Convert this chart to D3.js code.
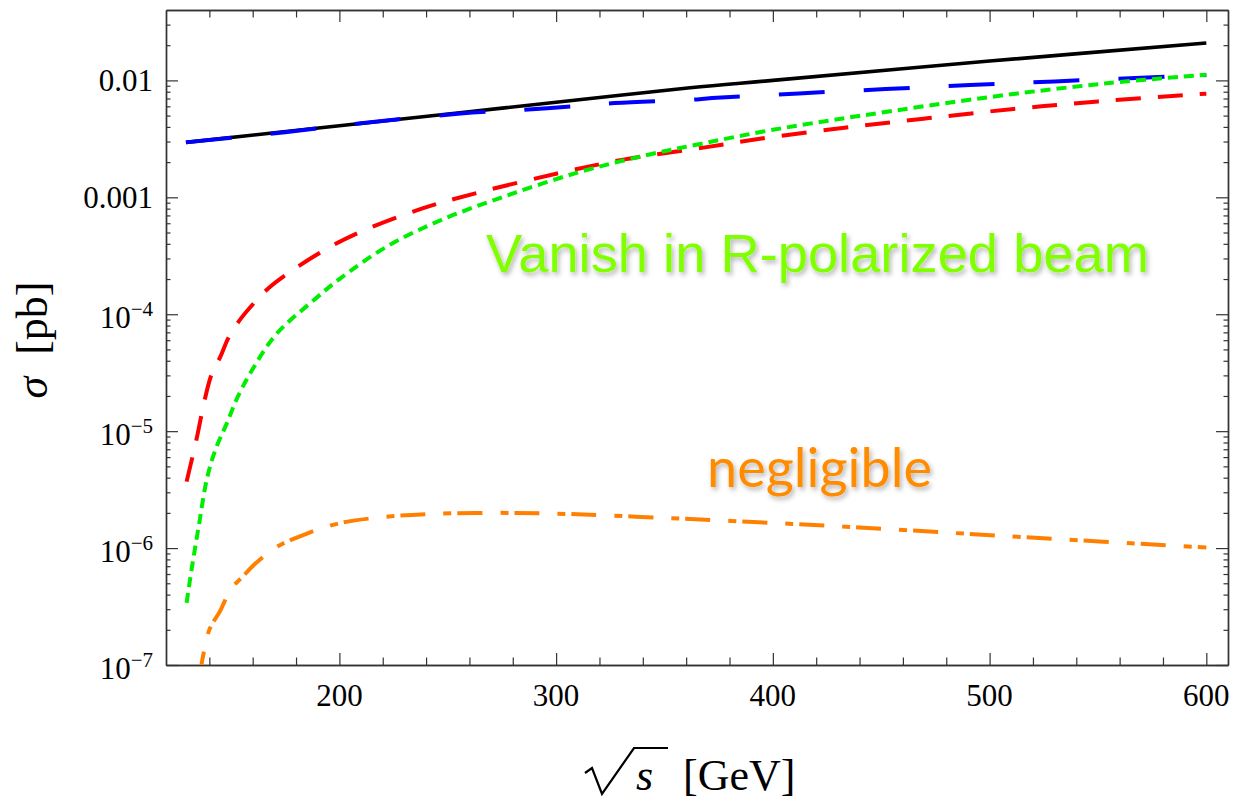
<!DOCTYPE html>
<html><head><meta charset="utf-8">
<script src="https://cdn.jsdelivr.net/npm/d3@7"></script>
<style>body{margin:0;background:#fff;} svg{display:block;}</style>
</head><body>
<svg id="chart" width="1234" height="801"></svg>
<script>
// ---- data ----
const xMajorTicks = [200, 300, 400, 500, 600];
const xMinorTicks = [140, 160, 180, 220, 240, 260, 280, 320, 340, 360, 380, 420, 440, 460, 480, 520, 540, 560, 580];
const yDecadeExps = [-7, -6, -5, -4, -3, -2];
const yPlainLabels = {"-3": "0.001", "-2": "0.01"};

const blackX = [129.2, 200, 256.6, 300, 361.8, 400, 500, 600];
const blackY = [0.00295, 0.0041, 0.00532, 0.0065, 0.00866, 0.0100, 0.01463, 0.0209];

const blueX = [129.2, 175, 210, 256, 296, 327, 365, 374, 412, 452, 491, 530, 570, 600];
const blueY = [0.00295, 0.0036, 0.0043, 0.0052, 0.00578, 0.0064, 0.00688, 0.0071, 0.00774, 0.00843, 0.00912, 0.0098, 0.01055, 0.0111];

const redX = [129.5, 134, 138, 141, 145, 149, 154, 161, 167, 175, 191.5, 209, 238, 265, 300, 331, 368, 394, 433, 472, 511, 550, 600];
const redY = [3.7e-6, 8.4e-6, 1.9e-5, 3.05e-5, 4.3e-5, 6.4e-5, 8.9e-5, 1.27e-4, 1.65e-4, 2.15e-4, 3.4e-4, 5.0e-4, 8.0e-4, 1.11e-3, 1.59e-3, 2.1e-3, 2.66e-3, 3.17e-3, 3.94e-3, 4.76e-3, 5.69e-3, 6.61e-3, 7.7e-3];

const greenX = [129.5, 132, 135, 139, 143, 148, 153, 160, 171, 188, 200, 222, 247, 277, 311, 342, 368, 400, 441, 500, 553, 600];
const greenY = [3.4e-7, 6.9e-7, 1.5e-6, 4.0e-6, 7.1e-6, 1.16e-5, 1.95e-5, 3.4e-5, 6.8e-5, 1.31e-4, 2.0e-4, 3.8e-4, 6.4e-4, 1.03e-3, 1.65e-3, 2.3e-3, 2.9e-3, 3.78e-3, 5.0e-3, 7.2e-3, 9.4e-3, 0.0112];

const orangeX = [135.5, 140, 145, 150, 155, 161, 171, 185, 200, 220, 243, 271, 300, 353, 409, 462, 516, 600];
const orangeY = [8e-8, 2.0e-7, 2.9e-7, 4.5e-7, 5.6e-7, 7.3e-7, 1.02e-6, 1.33e-6, 1.63e-6, 1.84e-6, 1.96e-6, 2.0e-6, 1.97e-6, 1.80e-6, 1.61e-6, 1.42e-6, 1.24e-6, 1.01e-6];

// ---- layout ----
const L = 166, R = 1228, T = 10, B = 665;
const svg = d3.select("#chart");
const x = d3.scaleLinear().domain([120, 610]).range([L, R]);
const y = d3.scaleLog().domain([1e-7, 0.04]).range([B, T]);

const defs = svg.append("defs");
defs.append("clipPath").attr("id", "plotclip").append("rect")
  .attr("x", L).attr("y", T).attr("width", R - L).attr("height", B - T);
const f = defs.append("filter").attr("id", "shadow")
  .attr("x", "-10%").attr("y", "-30%").attr("width", "125%").attr("height", "170%");
f.append("feDropShadow").attr("dx", 2).attr("dy", 3).attr("stdDeviation", 2.5)
  .attr("flood-color", "#000").attr("flood-opacity", 0.3);

// minor y ticks
const yMinor = [];
yDecadeExps.forEach(e => { for (let k = 2; k <= 9; k++) { const v = k * Math.pow(10, e); if (v < 0.04) yMinor.push(v); } });
const yMajor = yDecadeExps.map(e => Math.pow(10, e));

const axisColor = "#333";
function styleAxis(g) {
  g.selectAll("path.domain").attr("stroke", axisColor).attr("stroke-width", 1.4);
  g.selectAll(".tick line").attr("stroke", axisColor).attr("stroke-width", 1.2);
  g.selectAll(".tick text").remove();
}
// bottom
svg.append("g").attr("transform", `translate(0,${B})`)
  .call(d3.axisBottom(x).tickValues(xMinorTicks).tickSize(-7.5).tickSizeOuter(0).tickFormat("")).call(styleAxis);
svg.append("g").attr("transform", `translate(0,${B})`)
  .call(d3.axisBottom(x).tickValues(xMajorTicks).tickSize(-12).tickSizeOuter(0).tickFormat("")).call(styleAxis);
// top
svg.append("g").attr("transform", `translate(0,${T})`)
  .call(d3.axisTop(x).tickValues(xMinorTicks).tickSize(-7.5).tickSizeOuter(0).tickFormat("")).call(styleAxis);
svg.append("g").attr("transform", `translate(0,${T})`)
  .call(d3.axisTop(x).tickValues(xMajorTicks).tickSize(-12).tickSizeOuter(0).tickFormat("")).call(styleAxis);
// left
svg.append("g").attr("transform", `translate(${L},0)`)
  .call(d3.axisLeft(y).tickValues(yMinor).tickSize(-4.5).tickSizeOuter(0).tickFormat("")).call(styleAxis);
svg.append("g").attr("transform", `translate(${L},0)`)
  .call(d3.axisLeft(y).tickValues(yMajor).tickSize(-12).tickSizeOuter(0).tickFormat("")).call(styleAxis);
// right
svg.append("g").attr("transform", `translate(${R},0)`)
  .call(d3.axisRight(y).tickValues(yMinor).tickSize(-4.5).tickSizeOuter(0).tickFormat("")).call(styleAxis);
svg.append("g").attr("transform", `translate(${R},0)`)
  .call(d3.axisRight(y).tickValues(yMajor).tickSize(-12).tickSizeOuter(0).tickFormat("")).call(styleAxis);

// tick labels
const serif = "'Liberation Serif', 'Times New Roman', serif";
svg.append("g").selectAll("text").data(xMajorTicks).join("text")
  .attr("x", d => x(d)).attr("y", 706).attr("text-anchor", "middle")
  .attr("font-family", serif).attr("font-size", 31).attr("fill", "#000")
  .text(d => d);

const yl = svg.append("g");
yDecadeExps.forEach(e => {
  const v = Math.pow(10, e);
  if (yPlainLabels[e] !== undefined) {
    yl.append("text").attr("x", 153).attr("y", y(v) + 10.5).attr("text-anchor", "end")
      .attr("font-family", serif).attr("font-size", 31).text(yPlainLabels[e]);
  } else {
    const t = yl.append("text").attr("x", 153).attr("y", y(v) + 13.5).attr("text-anchor", "end")
      .attr("font-family", serif).attr("font-size", 31);
    t.append("tspan").text("10");
    t.append("tspan").attr("font-size", 21).attr("dy", -12).text("\u2212" + (-e));
  }
});

// curves
const plot = svg.append("g").attr("clip-path", "url(#plotclip)");
const line = d3.line().x(d => x(d[0])).y(d => y(d[1])).curve(d3.curveCatmullRom.alpha(0.5));
const series = [
  {xs: blackX, ys: blackY, color: "#000000", w: 3.6, dash: null},
  {xs: blueX, ys: blueY, color: "#0000ff", w: 4, dash: "46,39"},
  {xs: redX, ys: redY, color: "#ff0000", w: 4, dash: "25,17"},
  {xs: greenX, ys: greenY, color: "#00ee00", w: 4, dash: "10,6"},
  {xs: orangeX, ys: orangeY, color: "#ff8000", w: 4, dash: "25,18,8,6"}
];
series.forEach(s => {
  const pts = s.xs.map((v, i) => [v, s.ys[i]]);
  const p = plot.append("path").datum(pts).attr("d", line)
    .attr("fill", "none").attr("stroke", s.color).attr("stroke-width", s.w)
    .attr("stroke-linecap", "butt").attr("stroke-linejoin", "round");
  if (s.dash) p.attr("stroke-dasharray", s.dash);
});

// annotations
svg.append("text").attr("x", 486).attr("y", 272)
  .attr("font-family", "'Liberation Sans', Arial, sans-serif").attr("font-size", 54.3)
  .attr("fill", "#80ff00").attr("filter", "url(#shadow)")
  .text("Vanish in R-polarized beam");
svg.append("text").attr("x", 707).attr("y", 487)
  .attr("font-family", "Lato, 'Liberation Sans', sans-serif").attr("font-size", 54)
  .attr("fill", "#ff8c00").attr("filter", "url(#shadow)")
  .text("negligible");

// axis titles
const yt = svg.append("text").attr("transform", "translate(47,340) rotate(-90)")
  .attr("text-anchor", "middle").attr("font-family", serif).attr("font-size", 44);
yt.append("tspan").attr("font-style", "italic").text("\u03C3");
yt.append("tspan").text("\u00A0\u00A0[pb]");

// x title: radical + s + [GeV]
svg.append("path").attr("d", "M585,773 L592,768 L602,794 L634,748 L668,748")
  .attr("fill", "none").attr("stroke", "#000").attr("stroke-width", 2.2).attr("stroke-linejoin", "miter");
svg.append("text").attr("x", 636).attr("y", 790).attr("font-family", serif)
  .attr("font-style", "italic").attr("font-size", 44).text("s");
svg.append("text").attr("x", 683).attr("y", 790).attr("font-family", serif)
  .attr("font-size", 44).text("[GeV]");
</script>
</body></html>
